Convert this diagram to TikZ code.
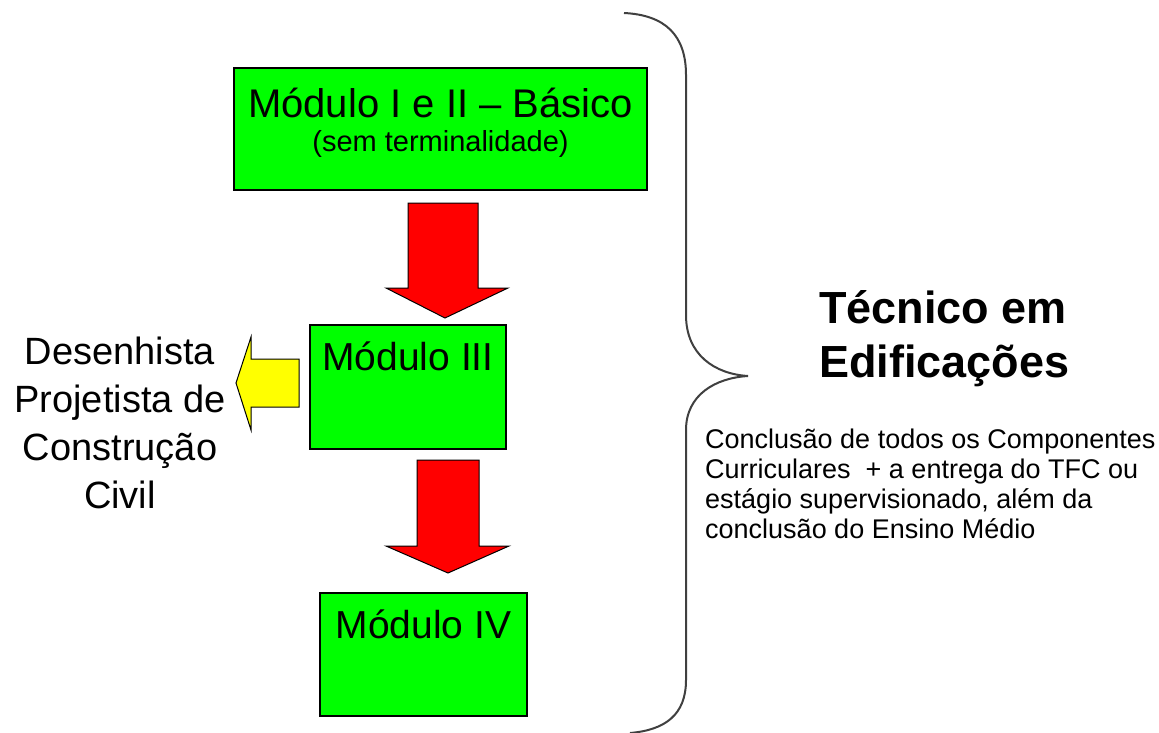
\documentclass[tikz,border=0pt]{standalone}
\usepackage{fontspec}
\setmainfont{Liberation Sans}
\usetikzlibrary{positioning}
\definecolor{modgreen}{RGB}{0,255,0}
\definecolor{arrowred}{RGB}{255,0,0}
\definecolor{arrowyellow}{RGB}{255,255,0}
\tikzset{
  modbox/.style={draw=black, line width=1.5pt, fill=modgreen, inner sep=0pt},
  bigtext/.style={font=\fontsize{40}{48}\selectfont, inner sep=0pt, anchor=base},
  redblock/.style={draw=black, line width=1pt, fill=arrowred, line join=miter},
  yellowblock/.style={draw=black, line width=1pt, fill=arrowyellow, line join=miter}
}
\begin{document}
\begin{tikzpicture}[x=1pt,y=-1pt]
    \fill[white] (0,0) rectangle (1159,733);
    \useasboundingbox (0,0) rectangle (1159,733);
    \node[modbox, minimum width=413pt, minimum height=122pt] (m12) at (440.5,129) {};
    \node[bigtext] (m12txt) at (440.5,118) {Módulo I e II – Básico};
    \node[bigtext, font=\fontsize{29}{34}\selectfont] (m12sub) at (440.5,151) {(sem terminalidade)};
    \node[modbox, minimum width=196pt, minimum height=124pt] (m3) at (408,387) {};
    \node[bigtext, font=\fontsize{39}{46}\selectfont] (m3txt) at (408,370) {Módulo III};
    \node[modbox, minimum width=207pt, minimum height=123pt] (m4) at (423.5,654.5) {};
    \node[bigtext, font=\fontsize{39}{46}\selectfont] (m4txt) at (423.5,638) {Módulo IV};
    \draw[redblock] (408,203) -- (478,203) -- (478,288) -- (508,288) -- (445,318) -- (386,288) -- (408,288) -- cycle;
    \draw[redblock] (417,460) -- (479,460) -- (479,546) -- (509,546) -- (448,573) -- (386,546) -- (417,546) -- cycle;
    \draw[yellowblock] (299,359) -- (251,359) -- (251,337) -- (236,383) -- (251,430) -- (251,407) -- (299,407) -- cycle;
    \node[bigtext, font=\fontsize{38}{47.7}\selectfont, align=center] (saida) at (120,508)
      {Desenhista\\Projetista de\\Construção\\Civil};
    \draw[line width=2pt, black!75] (624,13) .. controls (665,15) and (686,35) .. (686,75) -- (686,315)
      .. controls (686,355) and (715,374) .. (748,376) .. controls (715,378) and (686,395) .. (686,430)
      -- (686,680) .. controls (686,715) and (665,730) .. (630,733);
    \node[inner sep=0pt, anchor=base west, align=left, font=\bfseries\fontsize{45}{54}\selectfont] (curso) at (819,377)
      {Técnico em\\Edificações};
    \node[inner sep=0pt, anchor=base west, align=left, font=\fontsize{27}{30}\selectfont] (requisito) at (705,538)
      {Conclusão de todos os Componentes\\Curriculares\ \ + a entrega do TFC ou\\estágio supervisionado, além da\\conclusão do Ensino Médio};
\end{tikzpicture}
\end{document}
